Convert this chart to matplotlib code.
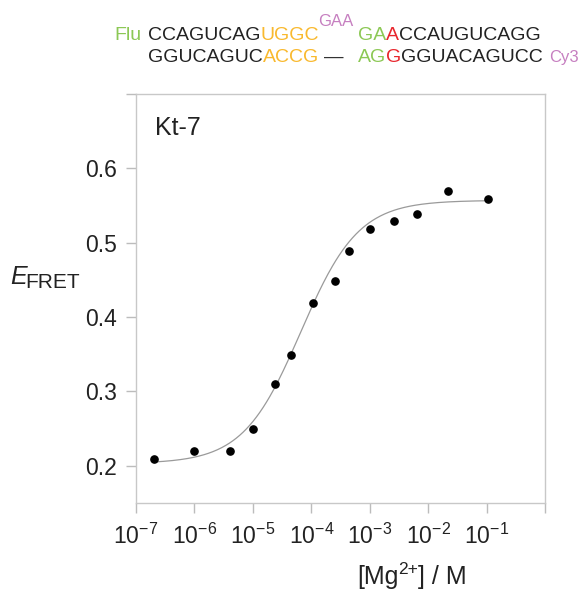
import numpy as np
import matplotlib
matplotlib.use("Agg")
import matplotlib.pyplot as plt
from matplotlib.ticker import FixedLocator, FixedFormatter, NullLocator

FONT = "Liberation Sans"
plt.rcParams["font.family"] = [FONT, "DejaVu Sans"]
plt.rcParams["mathtext.fontset"] = "custom"
plt.rcParams["mathtext.rm"] = FONT
plt.rcParams["mathtext.it"] = FONT + ":italic"
plt.rcParams["mathtext.default"] = "rm"

# ---- data ----
mg_conc = [2e-7, 1e-6, 4e-6, 1e-5, 2.4e-5, 4.5e-5, 1.05e-4, 2.5e-4, 4.5e-4,
           1e-3, 2.6e-3, 6.4e-3, 2.2e-2, 1.05e-1]
e_fret = [0.209, 0.220, 0.220, 0.250, 0.310, 0.349, 0.419, 0.449, 0.489,
          0.519, 0.529, 0.539, 0.569, 0.559]

# fitted two-state (Hill) model parameters
fit_e0 = 0.203
fit_emax = 0.557
fit_k = 6.6e-5
fit_n = 0.88
fit_range = (2e-7, 1.05e-1)

x_ticks = [1e-7, 1e-6, 1e-5, 1e-4, 1e-3, 1e-2, 1e-1, 1e0]
x_tick_labels = [r"$10^{-7}$", r"$10^{-6}$", r"$10^{-5}$", r"$10^{-4}$",
                 r"$10^{-3}$", r"$10^{-2}$", r"$10^{-1}$", ""]
y_ticks = [0.2, 0.3, 0.4, 0.5, 0.6, 0.7]
y_tick_labels = ["0.2", "0.3", "0.4", "0.5", "0.6", ""]

W, H = 582, 590
fig = plt.figure(figsize=(W / 100, H / 100), dpi=100)
ax = fig.add_axes([136 / W, 1 - 503 / H, (545 - 136) / W, (503 - 94) / H])

xf = np.logspace(np.log10(fit_range[0]), np.log10(fit_range[1]), 300)
r = (xf / fit_k) ** fit_n
yf = fit_e0 + (fit_emax - fit_e0) * r / (1 + r)
ax.plot(xf, yf, color="#9a9a9a", lw=0.9, zorder=2)
ax.plot(mg_conc, e_fret, "o", color="black", ms=5.2, zorder=3)

ax.set_xscale("log")
ax.set_xlim(1e-7, 1e0)
ax.set_ylim(0.15, 0.7)
ax.xaxis.set_major_locator(FixedLocator(x_ticks))
ax.xaxis.set_major_formatter(FixedFormatter(x_tick_labels))
ax.xaxis.set_minor_locator(NullLocator())
ax.yaxis.set_major_locator(FixedLocator(y_ticks))
ax.yaxis.set_major_formatter(FixedFormatter(y_tick_labels))

spine_c = "#c8c8c8"
for s in ax.spines.values():
    s.set_color(spine_c)
    s.set_linewidth(1.0)
ax.tick_params(axis="both", direction="out", length=7, width=1.0,
               color="#bcbcbc", labelcolor="#222222", labelsize=16.5)
ax.tick_params(axis="y", pad=7)
ax.tick_params(axis="x", pad=8)

ax.text((155 - 136) / (545 - 136), (503 - 135) / (503 - 94), "Kt-7",
        transform=ax.transAxes, fontsize=18, color="#222222",
        ha="left", va="baseline")

renderer = fig.canvas.get_renderer()

def ftext(x, y, s, **kw):
    return fig.text(x / W, 1 - y / H, s, **kw)

def chain(x, y, pieces, fs):
    """Place text pieces one after another starting at pixel x, baseline y."""
    for s, c, dy, f in pieces:
        t = ftext(x, y - dy, s, fontsize=f if f else fs, color=c, va="baseline")
        x = t.get_window_extent(renderer).x1

# y label E_FRET
ftext(10, 284, "E", fontsize=18, fontstyle="italic", color="#222222", va="baseline")
ftext(25, 288, "FRET", fontsize=15, color="#222222", va="baseline")

# x label [Mg2+] / M
TXT = "#222222"
chain(357, 584, [("[Mg", TXT, 0, 18), ("2+", TXT, 10, 12.5), ("] / M", TXT, 0, 18)], 18)

# sequence header
GREEN = "#8cc855"
ORANGE = "#f9b92e"
PINK = "#c67fc0"
RED = "#e8262d"
BLACK = "#222222"
FS = 14
chain(114, 40, [("Flu", GREEN, 0, None)], FS)
chain(148, 40, [("CCAGUCAG", BLACK, 0, None), ("UGGC", ORANGE, 0, None)], FS)
chain(318, 26.5, [("GAA", PINK, 0, 12)], FS)
chain(358, 40, [("GA", GREEN, 0, None), ("A", RED, 0, None),
                ("CCAUGUCAGG", BLACK, 0, None)], FS)
chain(148, 62, [("GGUCAGUC", BLACK, 0, None), ("ACCG", ORANGE, 0, None)], FS)
chain(324, 62, [("\u2014", "#333333", 0, None)], FS)
chain(358, 62, [("AG", GREEN, 0, None), ("G", RED, 0, None),
                ("GGUACAGUCC", BLACK, 0, None)], FS)
chain(549, 62, [("Cy3", PINK, 0, 12)], FS)

fig.savefig("out.png", dpi=100)
